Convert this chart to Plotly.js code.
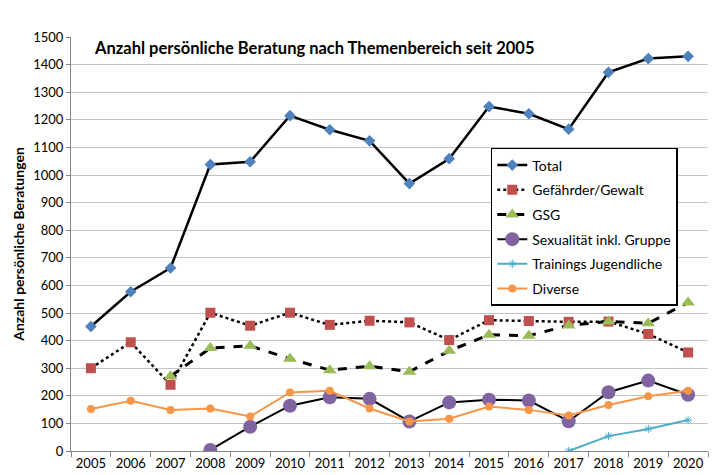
<!DOCTYPE html>
<html>
<head>
<meta charset="utf-8">
<script src="https://cdn.plot.ly/plotly-3.0.1.min.js"></script>
<style>html,body{margin:0;padding:0;background:#fff;}#chart{width:723px;height:475px;}</style>
</head>
<body>
<div id="chart"></div>
<script>
const years = ['2005','2006','2007','2008','2009','2010','2011','2012','2013','2014','2015','2016','2017','2018','2019','2020'];
const total = [451, 577, 663, 1038, 1048, 1215, 1164, 1124, 969, 1059, 1248, 1222, 1166, 1372, 1422, 1430];
const gefaehrder = [300, 394, 240, 501, 454, 501, 457, 472, 466, 402, 474, 471, 468, 469, 424, 357];
const gsg = [null, null, 271, 373, 381, 334, 293, 307, 287, 363, 421, 418, 455, 469, 463, 538];
const sexualitaet = [null, null, null, 4, 88, 164, 195, 189, 107, 176, 186, 183, 108, 213, 255, 204];
const trainings = [null, null, null, null, null, null, null, null, null, null, null, null, 0, 54, 80, 112];
const diverse = [152, 182, 149, 154, 125, 212, 218, 154, 107, 117, 161, 149, 129, 167, 198, 218];
const names = ['Total', 'Gefährder/Gewalt', 'GSG', 'Sexualität inkl. Gruppe', 'Trainings Jugendliche', 'Diverse'];

const font = 'Lato, "Open Sans", sans-serif';
const traces = [
  {y: total, name: names[0], line: {color: '#000', width: 2.5}, marker: {symbol: 'diamond', color: '#4f81bd', size: 9}},
  {y: gefaehrder, name: names[1], line: {color: '#000', width: 2.5, dash: 'dot'}, marker: {symbol: 'square', color: '#c0504d', size: 10}},
  {y: gsg, name: names[2], line: {color: '#000', width: 3, dash: 'dash'}, marker: {symbol: 'triangle-up', color: '#9bbb59', size: 12}},
  {y: sexualitaet, name: names[3], line: {color: '#000', width: 2}, marker: {symbol: 'circle', color: '#8064a2', size: 14}},
  {y: trainings, name: names[4], line: {color: '#4bacc6', width: 2}, marker: {symbol: 'asterisk-open', color: '#4bacc6', size: 7, line: {color: '#4bacc6', width: 1}}},
  {y: diverse, name: names[5], line: {color: '#f79646', width: 2}, marker: {symbol: 'circle', color: '#f79646', size: 8}}
].map((t, i) => Object.assign({x: years, type: 'scatter', mode: 'lines+markers', connectgaps: false, legendgroup: 'g' + i}, t));

const layout = {
  width: 723, height: 475,
  margin: {l: 71, r: 15, t: 37, b: 24},
  paper_bgcolor: '#fff', plot_bgcolor: '#fff',
  font: {family: font, size: 13, color: '#000'},
  showlegend: true,
  legend: {x: 0.659, y: 0.732, xanchor: 'left', yanchor: 'top', bgcolor: '#fff', bordercolor: '#000', borderwidth: 1.5,
           font: {family: font, size: 14, color: '#000'}, itemwidth: 30, traceorder: 'grouped', tracegroupgap: 3.5},
  xaxis: {type: 'category', range: [-0.5, 15.5], showgrid: false, showline: true, linecolor: '#868686', linewidth: 1,
          ticks: 'outside', tickson: 'boundaries', ticklen: 5, tickcolor: '#868686', tickangle: 0,
          tickfont: {family: font, size: 13}, zeroline: false, fixedrange: true},
  yaxis: {range: [0, 1500], dtick: 100, showgrid: true, gridcolor: '#c4c4c4', gridwidth: 1,
          showline: true, linecolor: '#868686', linewidth: 1, ticks: 'outside', ticklen: 4, tickcolor: '#868686',
          tickfont: {family: font, size: 13}, zeroline: false,
          title: {text: '<b>Anzahl persönliche Beratungen</b>', font: {family: font, size: 14}, standoff: 5}},
  annotations: [{
    text: '<b>Anzahl persönliche Beratung nach Themenbereich seit 2005</b>',
    xref: 'paper', yref: 'paper', x: 0.033, y: 0.973, xanchor: 'left', yanchor: 'middle',
    showarrow: false, font: {family: font, size: 16.5, color: '#000'}
  }]
};

Plotly.newPlot('chart', traces, layout, {staticPlot: true, displayModeBar: false});
</script>
</body>
</html>
